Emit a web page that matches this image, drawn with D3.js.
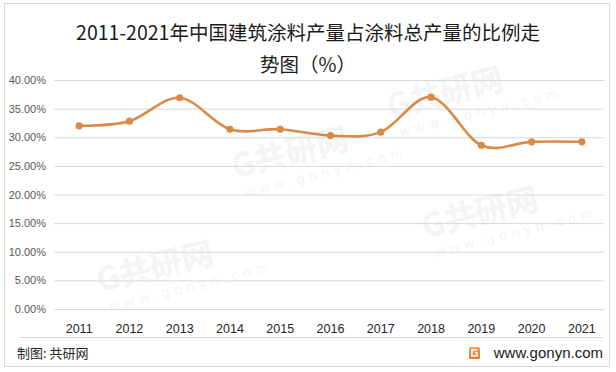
<!DOCTYPE html>
<html>
<head>
<meta charset="utf-8">
<script src="https://cdn.jsdelivr.net/npm/d3@7"></script>
<style>
  body { margin: 0; background: #fff; }
  svg { display: block; font-family: "Microsoft YaHei", "Noto Sans CJK SC", sans-serif; }
  .yaxis text { fill: #595959; font-size: 11px; font-family: "Liberation Sans", Arial, sans-serif; }
  .xaxis text { fill: #262626; font-size: 12.5px; font-family: "Liberation Sans", Arial, sans-serif; }
</style>
</head>
<body>
<div id="chart"></div>
<script>
// data
const years = ["2011", "2012", "2013", "2014", "2015", "2016", "2017", "2018", "2019", "2020", "2021"]
const shares = [32.0, 32.8, 36.9, 31.4, 31.4, 30.3, 30.9, 37.0, 28.6, 29.2, 29.2]
const yTicks = [0, 5, 10, 15, 20, 25, 30, 35, 40]
const titleLines = ["2011-2021年中国建筑涂料产量占涂料总产量的比例走", "势图（%）"]

const W = 616, H = 372
const plotLeft = 54, plotRight = 607, plotTop = 80, plotBottom = 309

let svg = d3.select("#chart").append("svg")
    .attr("width", W)
    .attr("height", H)

// outer frame
svg.append("rect")
    .attr("x", 4.5).attr("y", 3.5)
    .attr("width", 605).attr("height", 363)
    .attr("fill", "#fff")
    .attr("stroke", "#d9d9d9")

// faint watermarks, kept inside the frame
const marks = [[235, 178], [100, 292], [390, 118], [425, 238]]
marks.forEach((m) => {
    let g = svg.append("g")
        .attr("transform", "translate(" + m[0] + "," + m[1] + ") rotate(-14)")
        .attr("fill", "#f4f4f4")
    g.append("text")
        .attr("font-size", 32).attr("font-weight", "bold")
        .text("G共研网")
    g.append("text")
        .attr("y", 21).attr("x", 6)
        .attr("font-size", 14).attr("letter-spacing", 5)
        .attr("font-family", "Liberation Sans, Arial, sans-serif")
        .text("www.gonyn.com")
})

// title
svg.selectAll("text.title")
    .data(titleLines)
    .enter()
    .append("text")
    .attr("class", "title")
    .attr("x", 308)
    .attr("y", (d, i) => 40 + i * 32)
    .attr("text-anchor", "middle")
    .attr("font-size", 19.5)
    .attr("fill", "#1a1a1a")
    .text((d) => d)

let x = d3.scaleBand().domain(years).range([plotLeft, plotRight])
let y = d3.scaleLinear().domain([0, 40]).range([plotBottom, plotTop])

// y axis with gridlines
let yAxis = svg.append("g")
    .attr("class", "yaxis")
    .attr("transform", "translate(" + plotLeft + ",0)")
    .call(d3.axisLeft(y)
        .tickValues(yTicks)
        .tickSize(-(plotRight - plotLeft - 3))
        .tickPadding(8)
        .tickFormat((d) => d3.format(".2f")(d) + "%"))
yAxis.select(".domain").remove()
yAxis.selectAll(".tick line").attr("stroke", "#d9d9d9")

// x axis labels
let xAxis = svg.append("g")
    .attr("class", "xaxis")
    .attr("transform", "translate(0," + plotBottom + ")")
    .call(d3.axisBottom(x).tickSize(0).tickPadding(15))
xAxis.select(".domain").remove()

// footer separator
svg.append("line")
    .attr("x1", 19).attr("x2", 603)
    .attr("y1", 337.5).attr("y2", 337.5)
    .attr("stroke", "#d9d9d9")

// the line
const lineColor = "#d98a48"
let line = d3.line()
    .x((d, i) => x(years[i]) + x.bandwidth() / 2)
    .y((d) => y(d))
    .curve(d3.curveCardinal.tension(0))

svg.append("path")
    .datum(shares)
    .attr("d", line)
    .attr("fill", "none")
    .attr("stroke", lineColor)
    .attr("stroke-width", 2.6)

svg.selectAll("circle.dot")
    .data(shares)
    .enter()
    .append("circle")
    .attr("class", "dot")
    .attr("cx", (d, i) => x(years[i]) + x.bandwidth() / 2)
    .attr("cy", (d) => y(d))
    .attr("r", 3.6)
    .attr("fill", lineColor)

// footer
svg.append("text")
    .attr("x", 17).attr("y", 358)
    .attr("font-size", 13)
    .attr("fill", "#262626")
    .text("制图: 共研网")

let defs = svg.append("defs")
let grad = defs.append("linearGradient").attr("id", "logoGrad")
    .attr("x1", 0).attr("y1", 0).attr("x2", 0).attr("y2", 1)
grad.append("stop").attr("offset", "0%").attr("stop-color", "#f5a04e")
grad.append("stop").attr("offset", "100%").attr("stop-color", "#ee7030")

svg.append("rect")
    .attr("x", 469).attr("y", 347)
    .attr("width", 11).attr("height", 12)
    .attr("rx", 1.5)
    .attr("fill", "url(#logoGrad)")
svg.append("path")
    .attr("d", "M477,350 L472,350 L472,356 L477,356 L477,353 L475,353")
    .attr("fill", "none")
    .attr("stroke", "#fff")
    .attr("stroke-width", 1.6)

svg.append("text")
    .attr("x", 603).attr("y", 358)
    .attr("text-anchor", "end")
    .attr("font-size", 15)
    .attr("font-family", "Liberation Sans, Arial, sans-serif")
    .attr("fill", "#1a1a1a")
    .text("www.gonyn.com")
</script>
</body>
</html>
